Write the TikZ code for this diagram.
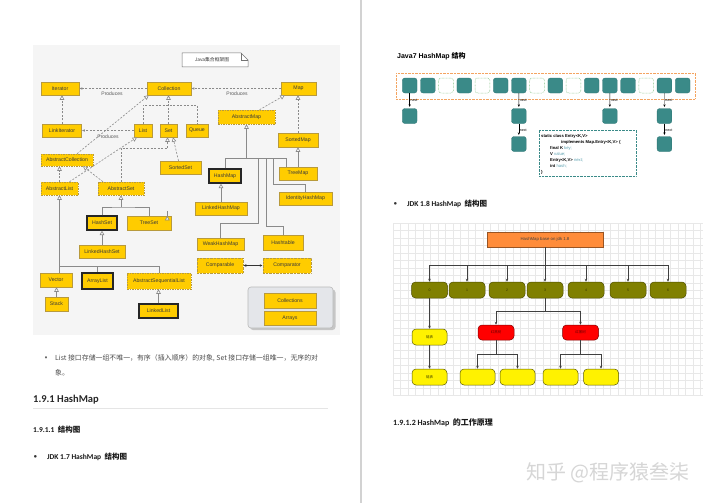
\documentclass[tikz,border=0pt]{standalone}
\usepackage{fontspec}
\setmainfont{Carlito}
\newfontfamily\arial{Liberation Sans}
\newfontfamily\cjk{Noto Sans CJK SC}
\usetikzlibrary{arrows.meta,calc}
\definecolor{jfill}{HTML}{FFCC00}
\definecolor{jborder}{HTML}{B89A3C}
\definecolor{jtext}{HTML}{3A3A3A}
\definecolor{lncol}{HTML}{8A8A8A}
\definecolor{diagbg}{HTML}{F5F5F5}
\definecolor{grpfill}{HTML}{E4E6EA}
\definecolor{teal7}{HTML}{3A8A88}
\definecolor{egreen}{HTML}{7FBF7F}
\definecolor{oorange}{HTML}{F4A460}
\definecolor{codeid}{HTML}{5AA0B0}
\definecolor{olive8}{HTML}{808000}
\definecolor{rootor}{HTML}{FF8C3A}
\definecolor{gridc}{HTML}{E8E8E8}
\tikzset{
  sz/.style 2 args={minimum width=#1pt, minimum height=#2pt},
  jb/.style={draw=jborder, fill=jfill, font=\arial\fontsize{5.2}{6}\selectfont, text=jtext, inner sep=0pt, line width=0.5pt},
  jabs/.style={jb, dash pattern=on 1.5pt off 1pt},
  jdot/.style={jb, dash pattern=on 0.7pt off 0.7pt},
  jbold/.style={jb, draw=black!85, line width=1.1pt},
  ln/.style={draw=lncol, line width=0.6pt},
  dln/.style={ln, dash pattern=on 2pt off 1.5pt},
  inh/.style={-{Triangle[fill=white,length=4.5pt,width=4.5pt]}},
  dep/.style={dln, -{Latex[length=3pt,width=2.6pt]}},
  prod/.style={font=\arial\fontsize{5}{6}\selectfont, text=black!65, inner sep=0pt},
  slot/.style={fill=teal7, draw=teal7!85!black, rounded corners=2.5pt, sz={14.7}{15}, inner sep=0pt, line width=0.3pt},
  eslot/.style={fill=white, draw=egreen, dash pattern=on 0.6pt off 0.8pt, rounded corners=2.5pt, sz={14.7}{15}, inner sep=0pt, line width=0.5pt},
  nx/.style={draw=black, line width=0.4pt, -{Stealth[length=2.5pt,width=2.2pt]}, shorten >=1.5pt},
  nlab/.style={anchor=west, font=\arial\fontsize{3.6}{4}\selectfont, inner sep=0.8pt},
  code/.style={anchor=west, font=\arial\bfseries\fontsize{4.2}{5}\selectfont, inner sep=0pt},
  bn/.style={rounded corners=4pt, inner sep=0pt, line width=0.5pt, font=\arial\fontsize{3.5}{4}\selectfont},
  olv/.style={bn, fill=olive8, draw=olive8!60!black, text=olive8!40!black, sz={36}{16}},
  yel/.style={bn, fill=yellow, draw=olive8!70!black, text=olive8!50!black, sz={35}{16}, font=\cjk\fontsize{3.5}{4}\selectfont},
  red8/.style={bn, fill=red, draw=red!50!black, text=red!40!black, sz={36}{15}, font=\cjk\fontsize{3.5}{4}\selectfont},
  ar/.style={draw=black!75, line width=0.6pt, -{Stealth[length=3pt,width=2.6pt]}},
  arl/.style={draw=black!75, line width=0.6pt},
}
\begin{document}
\begin{tikzpicture}[x=1pt,y=-1pt]
\useasboundingbox (0,0) rectangle (720,503);
\fill[white] (0,0) rectangle (720,503);
\draw[gray!35, line width=1.5pt] (361,0) -- (361,503);
% ================= left page: collection diagram =================
\fill[diagbg] (33,45) rectangle (340,335);
\draw[black!55, fill=white, line width=0.5pt] (182,53) -- (241,53) -- (248,60) -- (248,67) -- (182,67) -- cycle;
\draw[black!55, line width=0.5pt] (241,53) -- (241,60) -- (248,60);
\node[font=\cjk\fontsize{4.8}{5}\selectfont, text=jtext, inner sep=0pt] (jtitle) at (212,60) {Java集合框架图};

\fill[gray!45, rounded corners=3pt] (250,289.5) rectangle (335.5,330);
\draw[gray!55, fill=grpfill, rounded corners=3pt, line width=0.6pt] (248,287) rectangle (333,328);

\node[jb,sz={38}{13}] (Iterator) at (60,88.5) {Iterator};
\node[jb,sz={44}{13}] (Collection) at (169,88.5) {Collection};
\node[jb,sz={35}{13}] (Map) at (298.5,88.5) {Map};
\node[jb,sz={39}{13}] (LinkIterator) at (62,130.5) {LinkIterator};
\node[jb,sz={18}{13}] (List) at (143,130.5) {List};
\node[jb,sz={17}{13}] (Set) at (168.5,130.5) {Set};
\node[jb,sz={22}{13}] (Queue) at (197,130.5) {Queue};
\node[jabs,sz={57}{14}] (AbstractMap) at (246.5,117) {AbstractMap};
\node[jb,sz={40}{14}] (SortedMap) at (298,140) {SortedMap};
\node[jabs,sz={52}{12}] (AbstractCollection) at (67,160) {AbstractCollection};
\node[jb,sz={41}{13}] (SortedSet) at (180.5,167.5) {SortedSet};
\node[jbold,sz={32}{14}] (HashMap) at (225,176) {HashMap};
\node[jb,sz={38}{13}] (TreeMap) at (298,173.5) {TreeMap};
\node[jabs,sz={37}{13}] (AbstractList) at (59.5,188.5) {AbstractList};
\node[jabs,sz={46}{13}] (AbstractSet) at (121,188.5) {AbstractSet};
\node[jb,sz={53}{13}] (IdentityHashMap) at (305.5,198.5) {IdentityHashMap};
\node[jb,sz={52}{13}] (LinkedHashMap) at (221,208.5) {LinkedHashMap};
\node[jbold,sz={30}{14}] (HashSet) at (102,223) {HashSet};
\node[jb,sz={44}{14}] (TreeSet) at (149,223) {TreeSet};
\node[jb,sz={47}{12}] (WeakHashMap) at (220.5,244) {WeakHashMap};
\node[jb,sz={40}{15}] (Hashtable) at (283,242.5) {Hashtable};
\node[jb,sz={46}{13}] (LinkedHashSet) at (102,251.5) {LinkedHashSet};
\node[jdot,sz={46}{15}] (Comparable) at (220,265.5) {Comparable};
\node[jdot,sz={48}{15}] (Comparator) at (287,265.5) {Comparator};
\node[jb,sz={32}{14}] (Vector) at (56,280) {Vector};
\node[jbold,sz={31}{16}] (ArrayList) at (97.5,281) {ArrayList};
\node[jabs,sz={64}{16}] (AbstractSequentialList) at (159,281) {AbstractSequentialList};
\node[jb,sz={23}{14}] (Stack) at (56.5,304) {Stack};
\node[jbold,sz={39}{14}] (LinkedList) at (158.5,311) {LinkedList};
\node[jb,sz={52}{15}] (Collections) at (290,300.5) {Collections};
\node[jb,sz={52}{14}] (Arrays) at (290,318) {Arrays};

% produces
\draw[dep] (Collection.west) -- (Iterator.east);
\node[prod] (p1) at (112,94) {Produces};
\draw[dep] (Map.west) -- (Collection.east);
\node[prod] (p2) at (237,94) {Produces};
\draw[dep] (List.west) -- (LinkIterator.east);
\node[prod] (p3) at (108,136.5) {Produces};
% interface inheritance
\draw[dln,inh] (LinkIterator.north) -- (LinkIterator.north |- Iterator.south);
\coordinate (cbus) at (169,105);
\draw[dln] (List.north) |- (Queue.north |- cbus) -- (Queue.north);
\draw[dln,inh] (Set.north) -- (Set.north |- Collection.south);
\draw[dln,inh] ($(AbstractCollection.north)+(10,0)$) -- ($(Collection.south west)+(2,0)$);
\draw[dln,inh] ($(AbstractMap.north)+(13,0)$) -- ($(Map.south west)+(4,0)$);
\draw[dln,inh] (SortedMap.north) -- (SortedMap.north |- Map.south);
\draw[dln,inh] ($(AbstractList.north)+(10,0)$) -- ($(List.south)+(-6,0)$);
\draw[dln,inh] (AbstractList.north) -- (AbstractList.north |- AbstractCollection.south);
\draw[dln,inh] ($(AbstractSet.north)+(-18,0)$) -- ($(AbstractCollection.south)+(16,0)$);
\draw[dln,inh] (AbstractSet.north) |- ($(Set.south)+(-1,11)$) -- ($(Set.south)+(-1,0)$);
\draw[dln,inh] ($(SortedSet.north)+(-2,0)$) -- ($(Set.south)+(4.5,0)$);
% class inheritance
\draw[ln,inh] ($(TreeSet.north east)+(-4,0)$) -- ($(TreeSet.north east)+(-4,0)$ |- SortedSet.south);
\coordinate (asb) at (121,207);
\draw[ln] (HashSet.north) |- (asb) -| (TreeSet.north);
\draw[ln,inh] (asb) -- (AbstractSet.south);
\draw[ln,inh] (LinkedHashSet.north) -- (HashSet.south);
\coordinate (alb) at (59.5,266);
\draw[ln,inh] ($(Vector.north)+(3.5,0)$) -- (AbstractList.south);
\draw[ln] (alb) -| (ArrayList.north);
\draw[ln] (alb) -| (AbstractSequentialList.north);
\draw[ln,inh] (Stack.north) -- (Stack.north |- Vector.south);
\draw[ln,inh] (LinkedList.north) -- (LinkedList.north |- AbstractSequentialList.south);
\coordinate (amb) at (246.5,159);
\coordinate (mb1) at (258,159);
\coordinate (mb2) at (266,159);
\coordinate (mb3) at (273,159);
\draw[ln,inh] (amb) -- (AbstractMap.south);
\draw[ln] (HashMap.north) |- ($(TreeMap.north)+(-12,-8.5)$) -- ($(TreeMap.north)+(-12,0)$);
\draw[ln] (WeakHashMap.north) |- (258,223) -- (mb1);
\draw[ln] (Hashtable.north) |- (266,226) -- (mb2);
\draw[ln] (IdentityHashMap.north) |- (273,184) -- (mb3);
\draw[ln,inh] (LinkedHashMap.north) -- (LinkedHashMap.north |- HashMap.south);
\draw[ln,inh] (TreeMap.north) -- (SortedMap.south);
\draw[draw=black!80, line width=0.5pt, {Latex[length=3pt,width=2.6pt]}-{Latex[length=3pt,width=2.6pt]}] (Comparable.east) -- (Comparator.west);

% ================= left page text =================
\node[anchor=center, font=\fontsize{6}{7}\selectfont, text=black!60] (b1) at (46,358) {•};
\node[anchor=west, font=\cjk\fontsize{6.9}{8}\selectfont, text=black!70, inner sep=0pt] (l1) at (55,358) {List 接口存储一组不唯一，有序（插入顺序）的对象, Set 接口存储一组唯一，无序的对};
\node[anchor=west, font=\cjk\fontsize{6.9}{8}\selectfont, text=black!70, inner sep=0pt] (l2) at (55,373) {象。};
\node[anchor=west, font=\bfseries\fontsize{10.5}{12}\selectfont, text=black!85, inner sep=0pt] (h1) at (33,400) {1.9.1 HashMap};
\draw[gray!20, line width=0.6pt] (33,408.5) -- (328,408.5);
\node[anchor=west, font=\bfseries\fontsize{7.5}{9}\selectfont, text=black!90, inner sep=0pt] (h2) at (33,430) {1.9.1.1\ \ {\cjk\bfseries 结构图}};
\node[anchor=center, font=\arial\fontsize{6}{7}\selectfont, text=black!80] (b2) at (35.5,457) {●};
\node[anchor=west, font=\bfseries\fontsize{7.5}{9}\selectfont, text=black!90, inner sep=0pt] (h3) at (47,457) {JDK 1.7 HashMap\ \ {\cjk\bfseries 结构图}};

% ================= right page: Java7 =================
\node[anchor=west, font=\arial\bfseries\fontsize{7}{8}\selectfont, inner sep=0pt] (j7) at (397,56) {Java7 HashMap {\cjk\bfseries 结构}};
\node[draw=oorange, dash pattern=on 0.6pt off 0.8pt, line width=0.6pt, sz={299}{26}, inner sep=0pt] (arr) at (545.5,86) {};
\foreach \i in {0,1,3,5,6,8,10,11,12,14,15} \node[slot] (s\i) at ({409.65+18.2*\i},85.5) {};
\foreach \i in {2,4,7,9,13} \node[eslot] (s\i) at ({409.65+18.2*\i},85.5) {};
\node[slot] (c0) at (409.65,116) {};
\node[slot] (c6) at (518.85,116) {};
\node[slot] (c11) at (609.85,116) {};
\node[slot] (c14) at (664.45,116) {};
\node[slot] (d6) at (518.85,144) {};
\node[slot] (d14) at (664.45,144) {};
\draw[nx] (s0.south) -- (c0.north) node[nlab, pos=0.5] {next};
\draw[nx] (s6.south) -- (c6.north) node[nlab, pos=0.5] {next};
\draw[nx] (s11.south) -- (c11.north) node[nlab, pos=0.5] {next};
\draw[nx] (s14.south) -- (c14.north) node[nlab, pos=0.5] {next};
\draw[nx] (c6.south) -- (d6.north) node[nlab, pos=0.5] {next};
\draw[nx] (c14.south) -- (d14.north) node[nlab, pos=0.5] {next};
\node[draw=teal7, dash pattern=on 0.6pt off 0.8pt, line width=0.7pt, sz={97}{46}, inner sep=0pt] (codebox) at (587.5,153) {};
\node[code] (k1) at (541,136) {static class Entry<K,V>};
\node[code] (k2) at (561,142) {implements Map.Entry<K,V> \{};
\node[code] (k3) at (550,148) {final K \textcolor{codeid}{\mdseries key;}};
\node[code] (k4) at (550,154) {V \textcolor{codeid}{\mdseries value;}};
\node[code] (k5) at (550,160) {Entry<K,V> \textcolor{codeid}{\mdseries next;}};
\node[code] (k6) at (550,166) {int \textcolor{codeid}{\mdseries hash;}};
\node[code] (k7) at (541,172) {\}};

% ================= right page: JDK 1.8 =================
\node[anchor=center, font=\arial\fontsize{6}{7}\selectfont, text=black!80] (b3) at (395.5,204) {●};
\node[anchor=west, font=\bfseries\fontsize{7.5}{9}\selectfont, text=black!90, inner sep=0pt] (h4) at (407,204) {JDK 1.8 HashMap\ \ {\cjk\bfseries 结构图}};
\foreach \gx in {393,400.5,...,704} \draw[gridc, line width=0.35pt] (\gx,223) -- (\gx,395);
\foreach \gy in {223,230.5,...,396} \draw[gridc, line width=0.35pt] (393,\gy) -- (703,\gy);
\node[fill=rootor, draw=rootor!60!black, line width=0.5pt, sz={116}{15}, inner sep=0pt, font=\arial\fontsize{4.3}{5}\selectfont, text=black!75] (root) at (545,239.5) {HashMap base on jdk 1.8};
\node[olv] (o0) at (429.5,290) {0};
\node[olv] (o1) at (467,290) {1};
\node[olv] (o2) at (507,290) {2};
\node[olv] (o3) at (545,290) {3};
\node[olv] (o4) at (586,290) {4};
\node[olv] (o5) at (628,290) {5};
\node[olv] (o6) at (668,290) {6};
\coordinate (rb) at (545,265);
\draw[arl] (root.south) -- (rb);
\foreach \k in {0,...,6} \draw[ar] (rb) -| (o\k.north);
\node[yel] (e1) at (429.5,337) {链表};
\node[yel] (e2) at (429.5,377) {链表};
\draw[ar] (o0.south) -- (e1.north);
\draw[ar] (e1.south) -- (e2.north);
\node[red8] (r1) at (496,332.5) {红黑树};
\node[red8] (r2) at (580.5,332.5) {红黑树};
\draw[ar] (o3.south) -- ++(0,13) -| (r1.north);
\draw[ar] (o3.south) -- ++(0,13) -| (r2.north);
\node[yel] (y1) at (477.5,377) {};
\node[yel] (y2) at (517.5,377) {};
\node[yel] (y3) at (560.5,377) {};
\node[yel] (y4) at (601,377) {};
\draw[ar] (r1.south) -- ++(0,14) -| (y1.north);
\draw[ar] (r1.south) -- ++(0,14) -| (y2.north);
\draw[ar] (r2.south) -- ++(0,14) -| (y3.north);
\draw[ar] (r2.south) -- ++(0,14) -| (y4.north);

\node[anchor=west, font=\bfseries\fontsize{8}{9}\selectfont, text=black!90, inner sep=0pt] (h5) at (393,423) {1.9.1.2 HashMap\ \ {\cjk\bfseries 的工作原理}};
\node[anchor=west, font=\cjk\fontsize{20}{22}\selectfont, text=gray!32, inner sep=0pt] (wm) at (526,473) {知乎 @程序猿叁柒};
\end{tikzpicture}
\end{document}
